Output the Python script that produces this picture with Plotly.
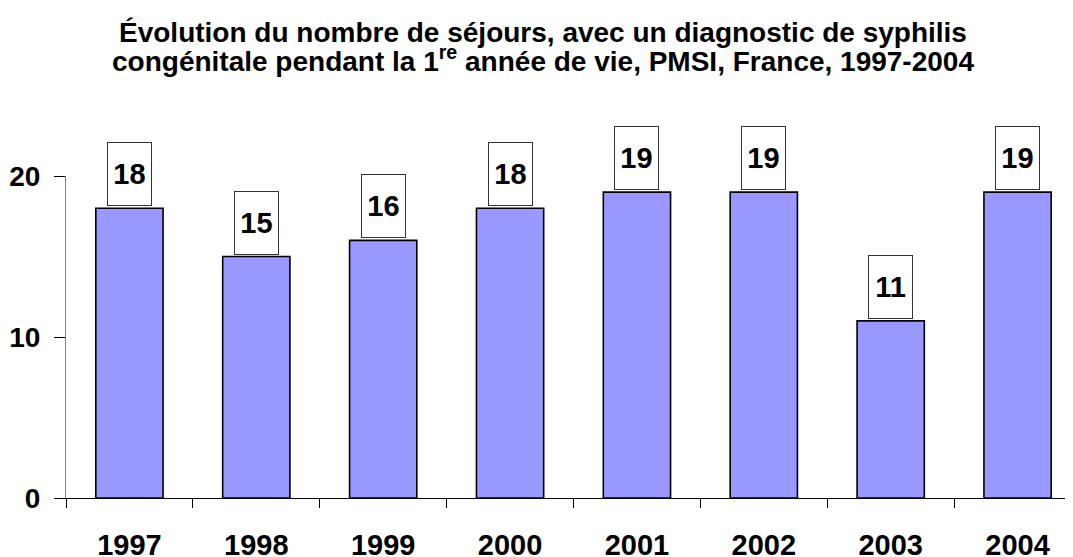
import plotly.graph_objects as go

years = ["1997", "1998", "1999", "2000", "2001", "2002", "2003", "2004"]
sejours = [18, 15, 16, 18, 19, 19, 11, 19]
y_ticks = [0, 10, 20]

title_line1 = "Évolution du nombre de séjours, avec un diagnostic de syphilis"
title_line2 = "congénitale pendant la 1<sup>re</sup> année de vie, PMSI, France, 1997-2004"

FONT = "Arial, Liberation Sans, sans-serif"

fig = go.Figure()
fig.add_trace(go.Bar(
    x=years, y=sejours, width=0.53,
    marker=dict(color="#9999FF", line=dict(color="black", width=1.6)),
    showlegend=False, cliponaxis=False,
))

annotations = []
for i, v in enumerate(sejours):
    annotations.append(dict(
        x=i, y=v, xref="x", yref="y", text=f"<b>{v}</b>",
        showarrow=False, yanchor="bottom", yshift=2,
        width=43, height=62, borderpad=0, borderwidth=1,
        bordercolor="#333333", bgcolor="white",
        font=dict(family=FONT, size=29, color="black"),
    ))

annotations.append(dict(
    x=0.470, y=1, xref="paper", yref="paper", yshift=176 - 32, text="<b>" + title_line1 + "</b>",
    showarrow=False, xanchor="center", yanchor="middle",
    font=dict(family=FONT, size=28, color="black"),
))
annotations.append(dict(
    x=0.470, y=1, xref="paper", yref="paper", yshift=176 - 59, text="<b>" + title_line2 + "</b>",
    showarrow=False, xanchor="center", yanchor="middle",
    font=dict(family=FONT, size=28, color="black"),
))

fig.update_layout(
    width=1073, height=557,
    margin=dict(l=58, r=0, t=168, b=67, autoexpand=False),
    paper_bgcolor="white", plot_bgcolor="white",
    font=dict(family=FONT, color="black"),
    annotations=annotations,
)

fig.update_xaxes(
    type="category", range=[-0.5, 7.5], automargin=False,
    showline=True, linecolor="black", linewidth=1,
    ticks="outside", tickson="boundaries", ticklen=9, tickcolor="black",
    ticklabelstandoff=21,
    tickfont=dict(family=FONT, size=29, color="black", weight="bold"),
    showgrid=False, zeroline=False,
)
fig.update_yaxes(
    range=[0, 20], tickvals=y_ticks, ticktext=[str(t) for t in y_ticks],
    automargin=False,
    showline=True, linecolor="#808080", linewidth=1,
    ticks="outside", ticklen=11, tickcolor="black",
    ticklabelstandoff=8,
    tickfont=dict(family=FONT, size=28, color="black", weight="bold"),
    showgrid=False, zeroline=False,
)

fig.write_html("out.html")
